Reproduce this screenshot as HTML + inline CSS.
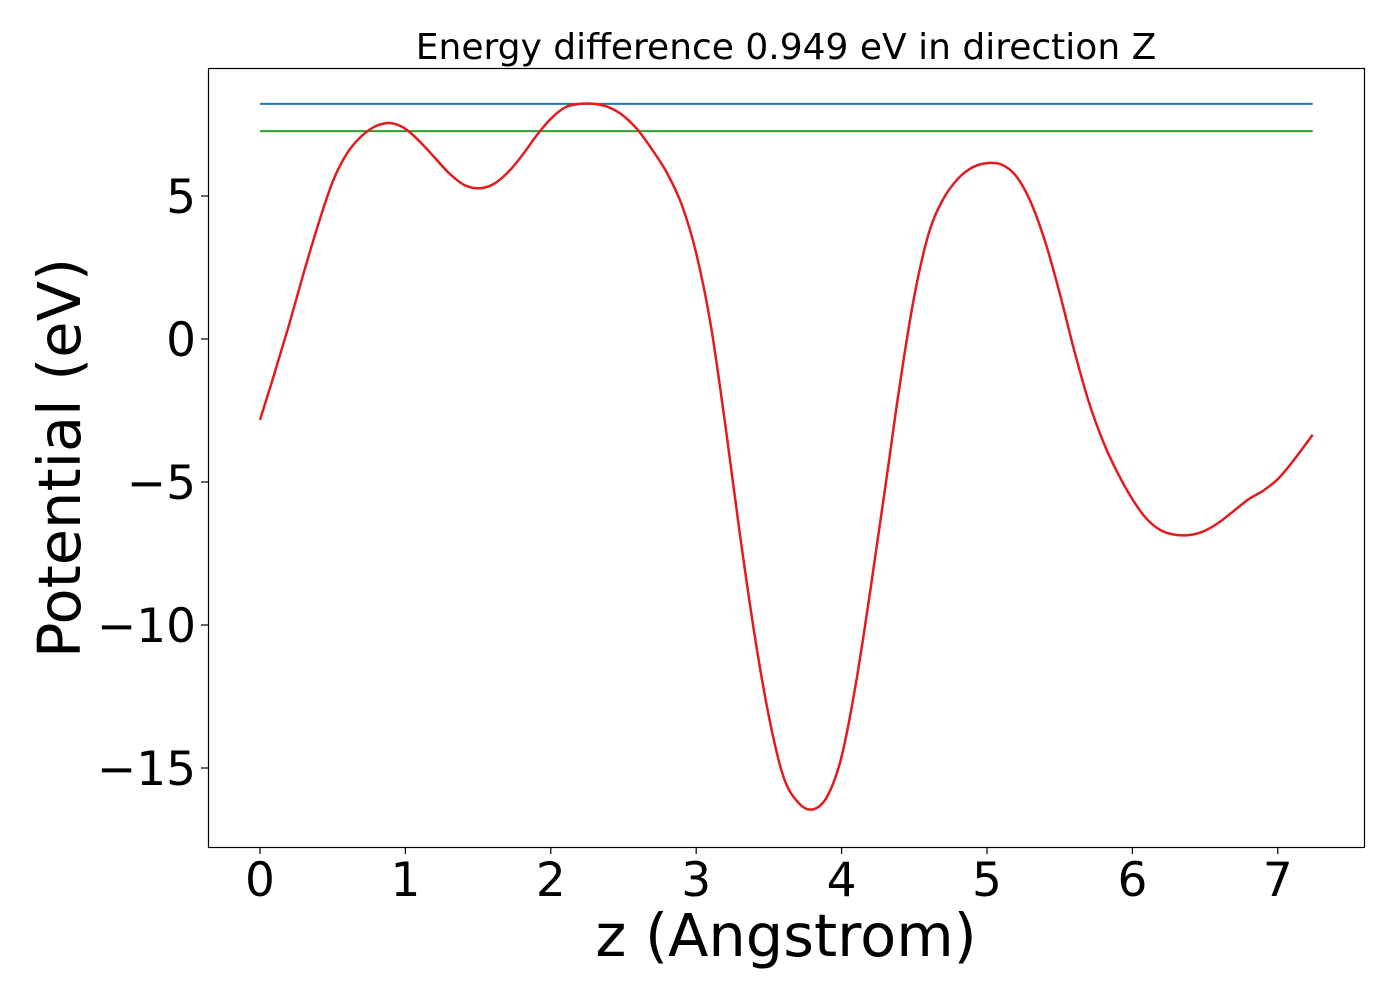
<!DOCTYPE html>
<html><head><meta charset="utf-8"><style>
html,body{margin:0;padding:0;background:#fff;}
svg text{font-family:"DejaVu Sans","Liberation Sans",sans-serif;fill:#000;}
</style></head><body>
<svg width="1400" height="1000" xmlns="http://www.w3.org/2000/svg">
<text x="786" y="59" font-size="36" text-anchor="middle">Energy difference 0.949 eV in direction Z</text>
<g id="plot"></g>
<rect x="208.5" y="68.5" width="1156" height="779" fill="none" stroke="#000" stroke-width="1.2"/>
<text x="786" y="956" font-size="59" text-anchor="middle">z (Angstrom)</text>
<text transform="translate(80,458) rotate(-90)" font-size="59" text-anchor="middle">Potential (eV)</text>
</svg>
<script>
const xTicks=[0,1,2,3,4,5,6,7];
const yTicks=[5,0,-5,-10,-15];
const yTickLabels=["5","0","\u22125","\u221210","\u221215"];
const zValues=[0,0.1,0.2,0.3,0.4,0.5,0.6,0.7,0.8,0.9,1.0,1.1,1.2,1.3,1.4,1.5,1.6,1.7,1.8,1.9,2.0,2.1,2.2,2.3,2.4,2.5,2.6,2.7,2.8,2.9,3.0,3.1,3.2,3.3,3.4,3.5,3.6,3.7,3.8,3.9,4.0,4.1,4.2,4.3,4.4,4.5,4.6,4.7,4.8,4.9,5.0,5.1,5.2,5.3,5.4,5.5,5.6,5.7,5.8,5.9,6.0,6.1,6.2,6.3,6.4,6.5,6.6,6.7,6.8,6.9,7.0,7.1,7.24];
const potential=[-2.83,-1.2,0.5,2.3,4.0,5.5,6.5,7.1,7.45,7.55,7.35,6.9,6.35,5.8,5.4,5.27,5.4,5.8,6.4,7.1,7.7,8.1,8.22,8.22,8.1,7.8,7.3,6.6,5.8,4.7,3.0,0.5,-3,-6.8,-10.3,-13.2,-15.3,-16.2,-16.45,-16.0,-14.6,-12.0,-8.7,-5.2,-1.6,1.5,3.7,4.9,5.6,6.0,6.15,6.1,5.7,4.8,3.4,1.6,-0.4,-2.2,-3.6,-4.7,-5.6,-6.3,-6.7,-6.85,-6.85,-6.7,-6.4,-6.0,-5.6,-5.3,-4.9,-4.3,-3.35];
const blueLevel=8.22;
const greenLevel=7.27;
const xRange=[0,7.24];

const X=v=>260+v*145.4;
const Y=v=>339-v*28.6;
const NS="http://www.w3.org/2000/svg";
const plot=document.getElementById('plot');
const svg=plot.ownerSVGElement;
function mk(tag,attrs,parent){const e=document.createElementNS(NS,tag);for(const k in attrs)e.setAttribute(k,attrs[k]);(parent||plot).appendChild(e);return e;}

xTicks.forEach(t=>{
  const l=mk('line',{x1:X(t),x2:X(t),y1:847,y2:854,stroke:'#000','stroke-width':1.2},svg);
  
  
  const tx=mk('text',{x:X(t),y:896,'font-size':47,'text-anchor':'middle'},svg);
  tx.textContent=String(t);
  
  
});
yTicks.forEach((t,i)=>{
  const l=mk('line',{x1:201,x2:208,y1:Y(t),y2:Y(t),stroke:'#000','stroke-width':1.2},svg);
  
  
  const tx=mk('text',{x:196,y:Y(t)+17,'font-size':47,'text-anchor':'end'},svg);
  tx.textContent=yTickLabels[i];
  
  
});
const b=mk('line',{x1:X(xRange[0]),x2:X(xRange[1]),y1:Y(blueLevel),y2:Y(blueLevel),stroke:'#1f77b4','stroke-width':2});


const g=mk('line',{x1:X(xRange[0]),x2:X(xRange[1]),y1:Y(greenLevel),y2:Y(greenLevel),stroke:'#2ca02c','stroke-width':2});


const P=zValues.map((z,i)=>[X(z),Y(potential[i])]);
let d='M'+P[0][0].toFixed(1)+','+P[0][1].toFixed(1);
for(let i=0;i<P.length-1;i++){
  const p0=P[Math.max(i-1,0)],p1=P[i],p2=P[i+1],p3=P[Math.min(i+2,P.length-1)];
  const c1=[p1[0]+(p2[0]-p0[0])/6,p1[1]+(p2[1]-p0[1])/6];
  const c2=[p2[0]-(p3[0]-p1[0])/6,p2[1]-(p3[1]-p1[1])/6];
  d+=' C'+c1[0].toFixed(1)+','+c1[1].toFixed(1)+' '+c2[0].toFixed(1)+','+c2[1].toFixed(1)+' '+p2[0].toFixed(1)+','+p2[1].toFixed(1);
}
const p=mk('path',{d:d,fill:'none',stroke:'#e41a1c','stroke-width':2.5,'stroke-linejoin':'round'});


</script>
</body></html>
